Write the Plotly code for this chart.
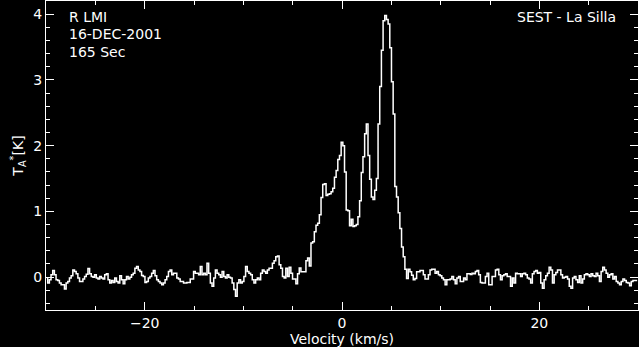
import numpy as np
import plotly.graph_objects as go

# Spectrum: SEST, R LMi, 16-DEC-2001 -- antenna temperature per channel
v_start = -30.0
v_end = 30.0
t_a = [
    # v ~ -30 .. -17
    -0.015, -0.09, -0.04, 0.035, 0.10, 0.035, -0.04, -0.05, -0.09, -0.116,
    -0.116, -0.18, -0.09, -0.066, -0.015, 0.02, 0.11, 0.086, 0.05, -0.015,
    -0.066, -0.066, -0.03, 0.01, 0.045, 0.13, 0.05, 0.01, 0.0, 0.035,
    -0.015, -0.03, 0.01, -0.015, -0.03, 0.035, 0.05, -0.04, -0.09, -0.05,
    -0.08, -0.015, -0.066, -0.09, 0.02, -0.04, -0.10, -0.04, 0.01, -0.03,
    0.0, 0.035, 0.06, 0.136, 0.16, 0.11, 0.086, 0.025, 0.01, -0.08,
    -0.066, -0.015, 0.01, 0.06, 0.10, 0.02, -0.04, -0.066, -0.09, -0.116,
    -0.09, -0.04, 0.01, 0.086, 0.11, 0.035, 0.06,
    # v ~ -17 .. -5.3
    0.06, -0.015, -0.03, -0.066, -0.066, -0.09, -0.09, -0.08, -0.08, -0.03,
    -0.03, 0.086, 0.06, 0.06, 0.035, 0.16, 0.035, 0.06, 0.035, 0.21,
    0.06, -0.09, -0.14, -0.015, 0.11, 0.06, 0.035, 0.0, 0.086, 0.01,
    -0.015, 0.035, 0.0, -0.015, -0.09, -0.19, -0.29, -0.09, -0.04, -0.09,
    -0.066, 0.01, 0.16, 0.086, 0.06, 0.035, -0.04, -0.09, -0.04, -0.015,
    -0.04, 0.06, 0.11, 0.086, 0.06, 0.11, 0.136, 0.136, 0.21, 0.25,
    0.31, 0.32, 0.19, 0.136, 0.01, -0.015, 0.136, 0.01,
    # v ~ -5.3 .. 1.3
    0.15, 0.06, -0.03, -0.03, -0.10, 0.05, 0.14, 0.08, 0.08, 0.08,
    0.25, 0.29, 0.17, 0.52, 0.54, 0.69, 0.79, 0.82, 0.95, 1.21,
    1.41, 1.42, 1.24, 1.26, 1.27, 1.30, 1.35, 1.52, 1.62, 1.79,
    1.85, 2.05, 2.00, 1.60, 1.02, 1.01, 0.78, 0.88, 0.77,
    # v ~ 1.3 .. 7.9
    0.78, 0.80, 0.92, 1.16, 1.59, 1.83, 2.18, 2.33, 1.85, 1.49,
    1.22, 1.18, 1.32, 1.50, 2.33, 2.90, 3.45, 3.90, 3.98, 3.92,
    3.85, 3.49, 2.97, 2.48, 1.38, 1.22, 0.98, 0.74, 0.46, 0.31,
    0.12, -0.02, 0.12, 0.08, 0.03, -0.04, -0.02, 0.08, 0.08,
    # v ~ 7.9 .. 18
    0.10, 0.10, 0.035, -0.03, -0.03, 0.035, 0.11, 0.12, 0.12, 0.06,
    0.086, 0.035, 0.02, -0.015, -0.04, -0.116, -0.04, -0.04, -0.03, 0.01,
    -0.04, -0.10, -0.015, 0.01, -0.066, -0.066, -0.015, -0.04, 0.05, 0.05,
    0.04, 0.06, 0.05, 0.086, 0.10, 0.035, -0.08, -0.09, -0.09, 0.01,
    0.06, -0.116, -0.116, 0.01, 0.01, 0.11, 0.12, 0.035, -0.04, 0.02,
    0.035, 0.05, 0.01, 0.01, -0.14, -0.015, -0.09, 0.06, 0.05, 0.05,
    # v ~ 18 .. 30
    0.01, 0.05, 0.06, 0.035, -0.015, -0.03, -0.09, 0.05, 0.086, 0.10,
    0.06, 0.07, -0.09, -0.17, -0.04, 0.02, 0.06, 0.15, 0.11, -0.09,
    0.035, 0.07, 0.11, 0.11, 0.035, -0.015, 0.0, 0.01, -0.03, -0.14,
    -0.17, -0.015, 0.01, -0.04, -0.08, 0.02, -0.09, -0.03, 0.035, 0.05,
    0.035, 0.01, 0.05, 0.02, 0.01, 0.06, 0.02, -0.066, 0.086, 0.15,
    0.11, 0.06, 0.0, 0.035, 0.05, -0.03, 0.01, -0.066, -0.09, -0.116,
    -0.066, -0.03, -0.05, -0.08, -0.09, -0.13, -0.066, -0.05, -0.05, -0.05,
]
x_ticks = [-20, 0, 20]
y_ticks = [0, 1, 2, 3, 4]
info_left = ["R LMI", "16-DEC-2001", "165 Sec"]
info_right = "SEST - La Silla"

n = len(t_a)
dv = (v_end - v_start) / n
velocity = v_start + dv * (np.arange(n) + 0.5)

FONT = "DejaVu Sans"
FS = 14
fig = go.Figure()
fig.add_trace(go.Scatter(
    x=velocity, y=t_a, mode="lines", line_shape="hvh",
    line=dict(color="white", width=1.5), hoverinfo="skip",
))

axis_common = dict(
    showline=True, linecolor="white", linewidth=1, mirror="allticks",
    ticks="inside", tickcolor="white", tickwidth=1,
    showgrid=False, zeroline=False,
    tickfont=dict(family=FONT, size=FS, color="white"),
)
fig.update_xaxes(
    range=[-30, 30], tickvals=x_ticks, ticklen=8,
    minor=dict(dtick=5, tick0=0, ticks="inside", ticklen=4, tickcolor="white", showgrid=False),
    title=dict(text="Velocity (km/s)", font=dict(family=FONT, size=FS, color="white"), standoff=0),
    **axis_common,
)
fig.update_yaxes(
    range=[-0.5, 4.2], tickvals=y_ticks, ticklen=8,
    minor=dict(dtick=0.2, tick0=0, ticks="inside", ticklen=4, tickcolor="white", showgrid=False),
    title=dict(text="T<sub>A</sub><sup>*</sup>[K]", font=dict(family=FONT, size=FS, color="white"), standoff=6),
    **axis_common,
)

ys = [0.948, 0.892, 0.834]
for txt, yy in zip(info_left, ys):
    fig.add_annotation(text=txt, xref="paper", yref="paper", x=0.035, y=yy,
                       xanchor="left", yanchor="middle", showarrow=False,
                       font=dict(family=FONT, size=FS, color="white"))
fig.add_annotation(text=info_right, xref="paper", yref="paper", x=0.967, y=0.948,
                   xanchor="right", yanchor="middle", showarrow=False,
                   font=dict(family=FONT, size=FS, color="white"))

fig.update_layout(
    width=639, height=347,
    margin=dict(l=46, r=1, t=1, b=37),
    paper_bgcolor="black", plot_bgcolor="black",
    showlegend=False,
)
fig.write_html(
    "out.html",
    config={"displayModeBar": False},
    post_script="document.body.style.margin='0';document.body.style.overflow='hidden';",
)
